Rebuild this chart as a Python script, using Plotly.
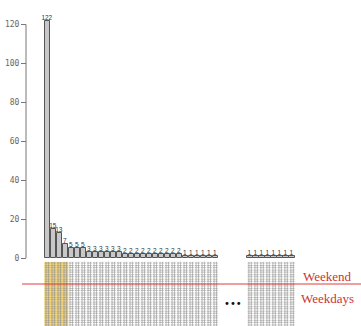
import numpy as np
import plotly.graph_objects as go

# ---- data ----
left_counts = [122, 15, 13, 7, 5, 5, 5, 3, 3, 3, 3, 3, 3,
               2, 2, 2, 2, 2, 2, 2, 2, 2, 2,
               1, 1, 1, 1, 1, 1]
right_counts = [1, 1, 1, 1, 1, 1, 1, 1]
y_ticks = [0, 20, 40, 60, 80, 100, 120]
n_matrix_rows = 14
highlight_cols = 4
row_labels = ["Weekend", "Weekdays"]

W, H = 361, 326
# pixel layout
px_first = 47.3      # centre of first bar (px)
pitch = 6.0          # px per bar
py_zero = 258.0      # y pixel of value 0
py_120 = 24.5        # y pixel of value 120
gap_bars = 4.8       # gap between the two groups, in bar pitches

xl = np.arange(len(left_counts))
xr = len(left_counts) + gap_bars + np.arange(len(right_counts))
xs = np.concatenate([xl, xr])
counts = left_counts + right_counts

x_range = [-px_first / pitch, (W - px_first) / pitch]
upp = (py_zero - py_120) / 120.0
matrix_top_px = 262
y_range = [0, py_zero / upp]
y_dom = [(H - py_zero) / H, 1]

fig = go.Figure()
fig.add_trace(go.Bar(
    x=xs, y=counts, width=0.92,
    marker=dict(color="#c8c8c8", line=dict(color="#555555", width=1)),
    text=[str(c) for c in counts], textposition="outside",
    outsidetextfont=dict(family="Liberation Sans Narrow, Liberation Sans",
                         size=6.5, color="#333333"),
    constraintext="none", cliponaxis=False, xaxis="x", yaxis="y",
    hoverinfo="skip",
))

# matrix grid
mx, my = [], []
for c in xs:
    for r in range(n_matrix_rows):
        mx.append(c)
        my.append(r + 0.5)
fig.add_trace(go.Scatter(
    x=mx, y=my, mode="markers", xaxis="x", yaxis="y2",
    marker=dict(symbol="hash-open", size=5, color="#959595",
                line=dict(color="#959595", width=0.6)),
    hoverinfo="skip", cliponaxis=False,
))

shapes = []
# y axis line
shapes.append(dict(type="line", xref="paper", yref="y", x0=26 / W, x1=26 / W,
                   y0=0, y1=120, line=dict(color="#777777", width=1)))
# highlight
shapes.append(dict(type="rect", xref="x", yref="paper",
                   x0=-0.5, x1=highlight_cols - 0.5,
                   y0=0, y1=(H - matrix_top_px) / H,
                   fillcolor="#f2d47a", line=dict(width=0), layer="below"))
# red separator line
red_py = 284
shapes.append(dict(type="line", xref="paper", yref="paper",
                   x0=22 / W, x1=1, y0=(H - red_py) / H, y1=(H - red_py) / H,
                   line=dict(color="#e23a3a", width=1)))

annotations = [
    dict(x=327 / W, y=(H - 276) / H, xref="paper", yref="paper",
         xanchor="center", yanchor="middle",
         text=row_labels[0], showarrow=False,
         font=dict(family="Liberation Serif", size=13, color="#cc3333")),
    dict(x=327 / W, y=(H - 298) / H, xref="paper", yref="paper",
         xanchor="center", yanchor="middle",
         text=row_labels[1], showarrow=False,
         font=dict(family="Liberation Serif", size=13, color="#cc3333")),
    dict(x=233 / W, y=(H - 303) / H, xref="paper", yref="paper",
         xanchor="center", yanchor="middle",
         text="•••", showarrow=False,
         font=dict(family="DejaVu Sans", size=10, color="#111111")),
]

fig.update_layout(
    template="none",
    width=W, height=H, margin=dict(l=0, r=0, t=0, b=0, pad=0, autoexpand=False),
    paper_bgcolor="white", plot_bgcolor="rgba(0,0,0,0)",
    showlegend=False, bargap=0,
    xaxis=dict(domain=[0, 1], range=x_range, visible=False, fixedrange=True),
    yaxis=dict(domain=y_dom, range=y_range, anchor="free", position=26 / W,
               showgrid=False, zeroline=False, showline=False, automargin=False,
               tickvals=y_ticks, ticks="outside", ticklen=5,
               tickcolor="#777777", tickwidth=1,
               tickfont=dict(family="DejaVu Sans Mono", size=8, color="#666666")),
    yaxis2=dict(domain=[0, (H - matrix_top_px) / H], range=[0, n_matrix_rows],
                visible=False, anchor="x"),
    shapes=shapes, annotations=annotations,
)

fig.write_html("out.html", config={"displayModeBar": False})
